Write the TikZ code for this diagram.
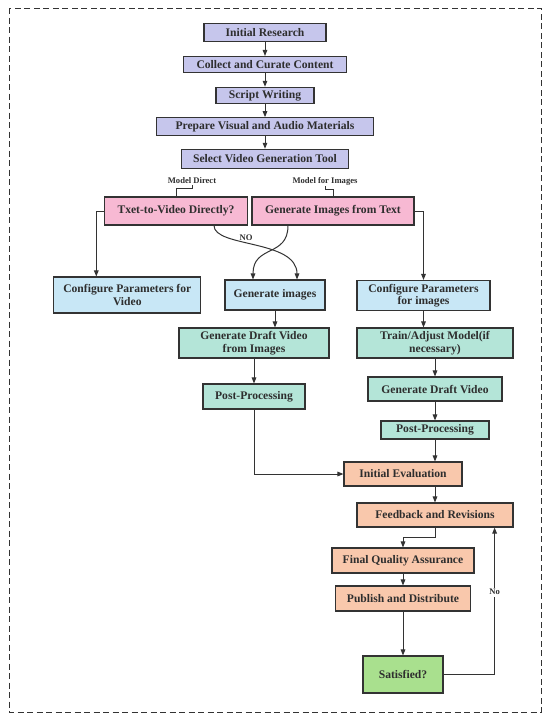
\documentclass[tikz,border=0pt]{standalone}
\usepackage{fontspec}
\setmainfont{Liberation Serif}
\usetikzlibrary{arrows.meta}
\definecolor{edge}{HTML}{333333}
\definecolor{txt}{HTML}{2E2E2E}
\definecolor{lav}{HTML}{C6C6EC}
\definecolor{pinkc}{HTML}{F7B9D3}
\definecolor{bluec}{HTML}{C8E7F6}
\definecolor{tealc}{HTML}{B4E5D8}
\definecolor{salm}{HTML}{F9C8AC}
\definecolor{grn}{HTML}{A9E08E}
\begin{document}
\begin{tikzpicture}[x=1pt,y=-1pt,
  box/.style={draw=edge, line width=1.1pt, align=center, inner sep=1pt,
    font=\bfseries\fontsize{11.6}{12.6}\selectfont, text=txt},
  arr/.style={draw=edge, line width=1pt, -{Triangle[length=6pt,width=4.6pt]}},
  brk/.style={draw=edge, line width=0.9pt},
  lbl/.style={font=\bfseries\fontsize{8.6}{10}\selectfont, text=txt, inner sep=1pt}
]
\useasboundingbox (0,0) rectangle (550,723);
\draw[edge, line width=0.9pt, dash pattern=on 6pt off 3.5pt] (9,8) rectangle (541,712);

% top chain
\node[box, fill=lav, minimum width=122, minimum height=18] (ir) at (265,32.5) {Initial Research};
\node[box, fill=lav, minimum width=163, minimum height=16] (cc) at (265,64.5) {Collect and Curate Content};
\node[box, fill=lav, minimum width=98, minimum height=16] (sw) at (265,95.3) {Script Writing};
\node[box, fill=lav, minimum width=217, minimum height=18] (pv) at (265,126.7) {Prepare Visual and Audio Materials};
\node[box, fill=lav, minimum width=167, minimum height=19] (sv) at (265,158.8) {Select Video Generation Tool};

% labels
\node[lbl] (md) at (192,181) {Model Direct};
\node[lbl] (mi) at (325,181) {Model for Images};

% pink
\node[box, fill=pinkc, minimum width=143, minimum height=28] (t2v) at (176,211) {Txet-to-Video Directly?};
\node[box, fill=pinkc, minimum width=162, minimum height=28] (git) at (333,211) {Generate Images from Text};

% blue
\node[box, fill=bluec, minimum width=147, minimum height=36] (cpv) at (127.3,295) {Configure Parameters for\\Video};
\node[box, fill=bluec, minimum width=100, minimum height=30] (gi) at (275,295) {Generate images};
\node[box, fill=bluec, minimum width=133, minimum height=30] (cpi) at (423.5,295.5) {Configure Parameters\\for images};

% teal
\node[box, fill=tealc, minimum width=150, minimum height=30] (gdv) at (254,343) {Generate Draft Video\\from Images};
\node[box, fill=tealc, minimum width=156, minimum height=30] (tam) at (435,343) {Train/Adjust Model(if\\necessary)};
\node[box, fill=tealc, minimum width=102, minimum height=25] (pp1) at (254,396.5) {Post-Processing};
\node[box, fill=tealc, minimum width=134, minimum height=24] (gdv2) at (435,389) {Generate Draft Video};
\node[box, fill=tealc, minimum width=108, minimum height=18] (pp2) at (435,430) {Post-Processing};

% salmon
\node[box, fill=salm, minimum width=118, minimum height=24] (ie) at (403,474) {Initial Evaluation};
\node[box, fill=salm, minimum width=156, minimum height=24] (fr) at (435,515) {Feedback and Revisions};
\node[box, fill=salm, minimum width=142, minimum height=25] (fqa) at (403,560.5) {Final Quality Assurance};
\node[box, fill=salm, minimum width=135, minimum height=25] (pd) at (403,598.5) {Publish and Distribute};
\node[box, fill=grn, minimum width=80, minimum height=37] (sat) at (403,674.5) {Satisfied?};

% arrows top chain
\draw[arr] (ir) -- (cc);
\draw[arr] (cc) -- (sw);
\draw[arr] (sw) -- (pv);
\draw[arr] (pv) -- (sv);

% brackets
\draw[brk] (md.south) -- ++(0,3.5) -| (t2v.north);
\draw[brk] (mi.south) -- ++(0,3.5) -| (git.north);

% branches
\draw[arr] (t2v.west) -| ([xshift=-31]cpv.north);
\draw[arr] (git.east) -| (cpi.north);
\draw[arr] ([xshift=38]t2v.south) .. controls +(0,22) and +(0,-40) .. ([xshift=22]gi.north);
\draw[arr] ([xshift=-45]git.south) .. controls +(0,32) and +(0,-35) .. ([xshift=-22]gi.north);
\node[lbl] (no) at (246,238) {NO};

% middle column
\draw[arr] (gi.south) -- (gi.south |- gdv.north);
\draw[arr] (gdv) -- (pp1);
\draw[arr] (pp1.south) |- (ie.west);

% right column
\draw[arr] (cpi.south) -- (cpi.south |- tam.north);
\draw[arr] (tam) -- (gdv2);
\draw[arr] (gdv2) -- (pp2);
\draw[arr] (pp2.south) -- (pp2.south |- ie.north);
\draw[arr] (pp2.south |- ie.south) -- (fr.north);
\draw[arr] (fr.south) -- ++(0,10) -| (fqa.north);
\draw[arr] (fqa) -- (pd);
\draw[arr] (pd) -- (sat);
\draw[arr] (sat.east) -| ([xshift=59.6]fr.south) node[lbl, pos=0.78, fill=white, inner sep=1.5pt] {No};
\end{tikzpicture}
\end{document}
